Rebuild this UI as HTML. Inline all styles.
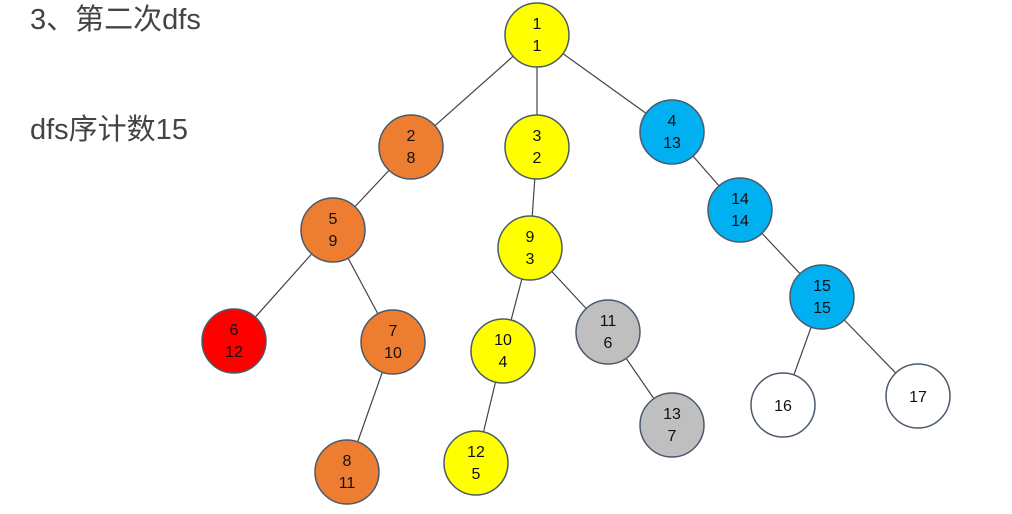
<!DOCTYPE html>
<html><head><meta charset="utf-8"><style>
body{margin:0;background:#fff;width:1012px;height:514px;overflow:hidden;}
</style></head><body>
<svg width="1012" height="514" xmlns="http://www.w3.org/2000/svg" style="position:absolute;left:0;top:0">
<g font-family="Liberation Sans, Noto Sans CJK SC, sans-serif" fill="#444" font-size="29">
<text x="30" y="29">3、第二次dfs</text>
<text x="30" y="139">dfs序计数15</text>
</g>
<g stroke="#444" stroke-width="1.2">
<line x1="537" y1="35" x2="411" y2="147"/>
<line x1="537" y1="35" x2="537" y2="147"/>
<line x1="537" y1="35" x2="672" y2="132"/>
<line x1="411" y1="147" x2="333" y2="230"/>
<line x1="333" y1="230" x2="234" y2="341"/>
<line x1="333" y1="230" x2="393" y2="342"/>
<line x1="393" y1="342" x2="347" y2="472"/>
<line x1="537" y1="147" x2="530" y2="248"/>
<line x1="530" y1="248" x2="503" y2="351"/>
<line x1="503" y1="351" x2="476" y2="463"/>
<line x1="530" y1="248" x2="608" y2="332"/>
<line x1="608" y1="332" x2="672" y2="425"/>
<line x1="672" y1="132" x2="740" y2="210"/>
<line x1="740" y1="210" x2="822" y2="297"/>
<line x1="822" y1="297" x2="783" y2="405"/>
<line x1="822" y1="297" x2="918" y2="396"/>
</g>
<g stroke="#4a5a6a" stroke-width="1.5" font-family="Liberation Sans, sans-serif" font-size="16" text-anchor="middle">
<g transform="translate(537,35)"><circle r="32" fill="#ffff00"/><text y="-6" fill="#111" stroke="none">1</text><text y="16" fill="#111" stroke="none">1</text></g>
<g transform="translate(411,147)"><circle r="32" fill="#ed7d31"/><text y="-6" fill="#111" stroke="none">2</text><text y="16" fill="#111" stroke="none">8</text></g>
<g transform="translate(537,147)"><circle r="32" fill="#ffff00"/><text y="-6" fill="#111" stroke="none">3</text><text y="16" fill="#111" stroke="none">2</text></g>
<g transform="translate(672,132)"><circle r="32" fill="#00b0f0"/><text y="-6" fill="#111" stroke="none">4</text><text y="16" fill="#111" stroke="none">13</text></g>
<g transform="translate(333,230)"><circle r="32" fill="#ed7d31"/><text y="-6" fill="#111" stroke="none">5</text><text y="16" fill="#111" stroke="none">9</text></g>
<g transform="translate(234,341)"><circle r="32" fill="#ff0000"/><text y="-6" fill="#111" stroke="none">6</text><text y="16" fill="#111" stroke="none">12</text></g>
<g transform="translate(393,342)"><circle r="32" fill="#ed7d31"/><text y="-6" fill="#111" stroke="none">7</text><text y="16" fill="#111" stroke="none">10</text></g>
<g transform="translate(347,472)"><circle r="32" fill="#ed7d31"/><text y="-6" fill="#111" stroke="none">8</text><text y="16" fill="#111" stroke="none">11</text></g>
<g transform="translate(530,248)"><circle r="32" fill="#ffff00"/><text y="-6" fill="#111" stroke="none">9</text><text y="16" fill="#111" stroke="none">3</text></g>
<g transform="translate(503,351)"><circle r="32" fill="#ffff00"/><text y="-6" fill="#111" stroke="none">10</text><text y="16" fill="#111" stroke="none">4</text></g>
<g transform="translate(476,463)"><circle r="32" fill="#ffff00"/><text y="-6" fill="#111" stroke="none">12</text><text y="16" fill="#111" stroke="none">5</text></g>
<g transform="translate(608,332)"><circle r="32" fill="#bfbfbf"/><text y="-6" fill="#111" stroke="none">11</text><text y="16" fill="#111" stroke="none">6</text></g>
<g transform="translate(672,425)"><circle r="32" fill="#bfbfbf"/><text y="-6" fill="#111" stroke="none">13</text><text y="16" fill="#111" stroke="none">7</text></g>
<g transform="translate(740,210)"><circle r="32" fill="#00b0f0"/><text y="-6" fill="#111" stroke="none">14</text><text y="16" fill="#111" stroke="none">14</text></g>
<g transform="translate(822,297)"><circle r="32" fill="#00b0f0"/><text y="-6" fill="#111" stroke="none">15</text><text y="16" fill="#111" stroke="none">15</text></g>
<g transform="translate(783,405)"><circle r="32" fill="#fff"/><text y="6" fill="#111" stroke="none">16</text></g>
<g transform="translate(918,396)"><circle r="32" fill="#fff"/><text y="6" fill="#111" stroke="none">17</text></g>
</g>
</svg>
</body></html>
